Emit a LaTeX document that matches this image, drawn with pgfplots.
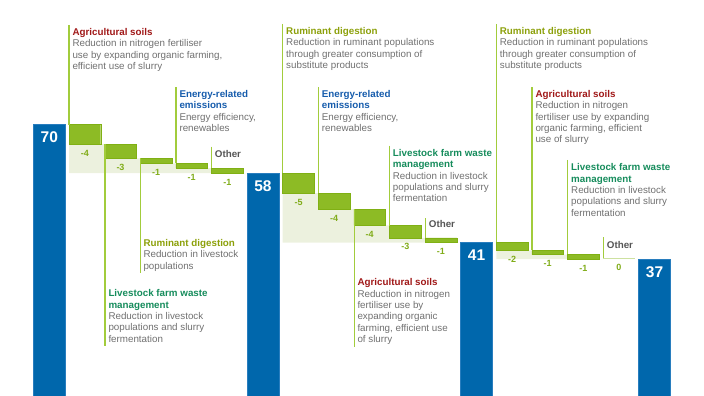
\documentclass[border=0pt]{standalone}
\usepackage{pgfplots}
\pgfplotsset{compat=1.18}
\usepackage{pgfplotstable}
\usepackage{fontspec}
\setmainfont{Liberation Sans}

\definecolor{cblue}{RGB}{0,103,172}
\definecolor{dkgreen}{RGB}{141,187,37}
\definecolor{ltgreen}{RGB}{236,241,222}
\definecolor{lngreen}{RGB}{162,204,60}
\definecolor{lblgreen}{RGB}{128,172,24}
\definecolor{tred}{RGB}{160,24,24}
\definecolor{tblue}{RGB}{22,92,172}
\definecolor{tolive}{RGB}{140,160,10}
\definecolor{tteal}{RGB}{22,140,92}
\definecolor{tgrey}{RGB}{85,85,85}
\definecolor{dgrey}{RGB}{112,112,112}

\newcommand\tfont{\fontsize{9.8}{11.4}\selectfont\bfseries}
\newcommand\dfont{\fontsize{9.8}{11.4}\selectfont}
\newcommand{\ttl}[4]{\node[anchor=base west, inner sep=0pt, text=#3, font=\tfont] at (#1,#2) {#4};}
\newcommand{\dsc}[3]{\node[anchor=base west, inner sep=0pt, text=dgrey, font=\dfont] at (#1,#2) {#3};}
\newcommand{\aline}[3]{\draw[lngreen, line width=1.2pt] (#1,#2) -- (#1,#3);}

\tikzset{lbl/.style={anchor=base, text=lblgreen, font=\fontsize{9}{10}\selectfont\bfseries, yshift=-12pt},
 tot/.style={anchor=base, text=white, font=\fontsize{15.5}{16}\selectfont\bfseries, yshift=-18pt}}

% totals
\pgfplotstableread{
x val
0 70
6 58
12 41
17 37
}\totals

% steps: base = new cumulative level, step = size of reduction
\pgfplotstableread{
x base step
1 65.1 4.9
2 61.6 3.5
3 60.4 1.2
4 59.2 1.2
5 58.0 1.2
7 53.1 4.9
8 49.2 3.9
9 45.2 4.0
10 42.2 3.0
11 41.0 1.2
13 39.1 1.9
14 38.1 1.0
15 37.0 1.1
}\steps

\pgfplotsset{wfbase/.style={
  scale only axis, width=704pt, height=396pt,
  at={(0,0)}, anchor=south west,
  xmin=-1.3848, xmax=18.390, ymin=3.52, ymax=100.32,
  hide axis, clip=true}}

\begin{document}
\begin{tikzpicture}
\path[use as bounding box] (0,0) rectangle (704pt,396pt);

\begin{axis}[wfbase, name=ax]
% light background regions (from each new level down to the group total)
\addplot[fill=ltgreen, draw=none] coordinates {(0.555,58) (0.555,65.1) (1.555,65.1) (1.555,61.6) (2.555,61.6) (2.555,60.4) (3.555,60.4) (3.555,59.2) (4.555,59.2) (4.555,58.0) (5.555,58.0)} -- cycle;
\addplot[fill=ltgreen, draw=none] coordinates {(6.555,41) (6.555,53.1) (7.555,53.1) (7.555,49.2) (8.555,49.2) (8.555,45.2) (9.555,45.2) (9.555,42.2) (10.555,42.2) (10.555,41.0) (11.555,41.0)} -- cycle;
\addplot[fill=ltgreen, draw=none] coordinates {(12.555,37) (12.555,39.1) (13.555,39.1) (13.555,38.1) (14.555,38.1) (14.555,37.0) (15.555,37.0)} -- cycle;
% zero step ("Other", third group)
\addplot[draw={rgb,255:red,205;green,225;blue,160}, line width=1pt] coordinates {(15.555,37.15) (16.445,37.15)};
% totals
\addplot[ybar, bar width=0.89, bar shift=0pt, fill=cblue, draw={rgb,255:red,40;green,125;blue,190}, line width=0.4pt] table[x=x, y=val] {\totals};
\node[tot] at (axis cs:0,70) {70};
\node[tot] at (axis cs:6,58) {58};
\node[tot] at (axis cs:12,41) {41};
\node[tot] at (axis cs:17,37) {37};
\end{axis}

\begin{axis}[wfbase, ybar stacked, bar width=0.89]
\addplot[draw=none, fill=none] table[x=x, y=base] {\steps};
\addplot[fill=dkgreen, draw={rgb,255:red,128;green,176;blue,20}, line width=0.4pt] table[x=x, y=step] {\steps};
\end{axis}

\begin{axis}[wfbase]
\node[lbl] at (axis cs:1,65.1) {-4};
\node[lbl] at (axis cs:2,61.6) {-3};
\node[lbl] at (axis cs:3,60.4) {-1};
\node[lbl] at (axis cs:4,59.2) {-1};
\node[lbl] at (axis cs:5,58.0) {-1};
\node[lbl] at (axis cs:7,53.1) {-5};
\node[lbl] at (axis cs:8,49.2) {-4};
\node[lbl] at (axis cs:9,45.2) {-4};
\node[lbl] at (axis cs:10,42.2) {-3};
\node[lbl] at (axis cs:11,41.0) {-1};
\node[lbl] at (axis cs:13,39.1) {-2};
\node[lbl] at (axis cs:14,38.1) {-1};
\node[lbl] at (axis cs:15,37.0) {-1};
\node[lbl] at (axis cs:16,37.2) {0};
\end{axis}

\begin{scope}[shift={(ax.north west)}, x=1pt, y=-1pt]
% ---- group 1
\aline{69}{25}{124.7}
\ttl{72.3}{35.3}{tred}{Agricultural soils}
\dsc{72.3}{46.7}{Reduction in nitrogen fertiliser}
\dsc{72.3}{58.1}{use by expanding organic farming,}
\dsc{72.3}{69.5}{efficient use of slurry}

\aline{176}{87.3}{163.3}
\ttl{179.3}{97.3}{tblue}{Energy-related}
\ttl{179.3}{108.7}{tblue}{emissions}
\dsc{179.3}{120.1}{Energy efficiency,}
\dsc{179.3}{131.5}{renewables}

\aline{211.5}{146.7}{168.3}
\ttl{214.7}{158}{tgrey}{Other}

\aline{140.3}{158.3}{272.7}
\ttl{143.3}{246.3}{tolive}{Ruminant digestion}
\dsc{143.3}{257.7}{Reduction in livestock}
\dsc{143.3}{269.1}{populations}

\aline{105}{144}{346}
\ttl{108.3}{296.7}{tteal}{Livestock farm waste}
\ttl{108.3}{308.1}{tteal}{management}
\dsc{108.3}{319.5}{Reduction in livestock}
\dsc{108.3}{330.9}{populations and slurry}
\dsc{108.3}{342.3}{fermentation}

% ---- group 2
\aline{282.7}{24}{173.3}
\ttl{286}{34.3}{tolive}{Ruminant digestion}
\dsc{286}{45.7}{Reduction in ruminant populations}
\dsc{286}{57.1}{through greater consumption of}
\dsc{286}{68.5}{substitute products}

\aline{318.3}{87.3}{193.3}
\ttl{321.7}{97.3}{tblue}{Energy-related}
\ttl{321.7}{108.7}{tblue}{emissions}
\dsc{321.7}{120.1}{Energy efficiency,}
\dsc{321.7}{131.5}{renewables}

\aline{389.7}{145.7}{226}
\ttl{392.7}{156.3}{tteal}{Livestock farm waste}
\ttl{392.7}{167.7}{tteal}{management}
\dsc{392.7}{179.1}{Reduction in livestock}
\dsc{392.7}{190.5}{populations and slurry}
\dsc{392.7}{201.9}{fermentation}

\aline{425.3}{218.3}{238}
\ttl{428.7}{228}{tgrey}{Other}

\aline{354.3}{209.3}{346.7}
\ttl{357.3}{285.7}{tred}{Agricultural soils}
\dsc{357.3}{297.1}{Reduction in nitrogen}
\dsc{357.3}{308.5}{fertiliser use by}
\dsc{357.3}{319.9}{expanding organic}
\dsc{357.3}{331.3}{farming, efficient use}
\dsc{357.3}{342.7}{of slurry}

% ---- group 3
\aline{496.3}{24}{242}
\ttl{499.7}{34.3}{tolive}{Ruminant digestion}
\dsc{499.7}{45.7}{Reduction in ruminant populations}
\dsc{499.7}{57.1}{through greater consumption of}
\dsc{499.7}{68.5}{substitute products}

\aline{532}{87.3}{250.3}
\ttl{535.3}{97.3}{tred}{Agricultural soils}
\dsc{535.3}{108.7}{Reduction in nitrogen}
\dsc{535.3}{120.1}{fertiliser use by expanding}
\dsc{535.3}{131.5}{organic farming, efficient}
\dsc{535.3}{142.9}{use of slurry}

\aline{567.7}{160}{254.3}
\ttl{571}{170.7}{tteal}{Livestock farm waste}
\ttl{571}{182.1}{tteal}{management}
\dsc{571}{193.5}{Reduction in livestock}
\dsc{571}{204.9}{populations and slurry}
\dsc{571}{216.3}{fermentation}

\aline{603.3}{237.3}{258.3}
\ttl{606.7}{248.3}{tgrey}{Other}
\end{scope}
\end{tikzpicture}
\end{document}
